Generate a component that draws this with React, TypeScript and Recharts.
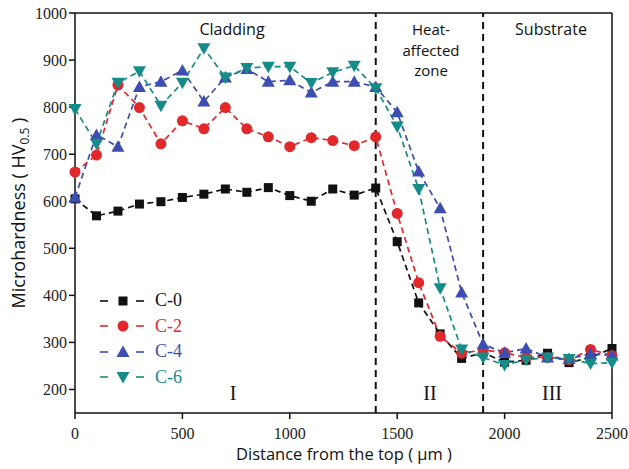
import { LineChart, Line, XAxis, YAxis, ReferenceLine } from "recharts";

// Distance from the top (µm)
const distance = [0, 100, 200, 300, 400, 500, 600, 700, 800, 900, 1000, 1100, 1200, 1300, 1400, 1500, 1600, 1700, 1800, 1900, 2000, 2100, 2200, 2300, 2400, 2500];

// Microhardness readings (HV0.5) for each sample
const c0 = [605, 569, 579, 594, 599, 608, 615, 626, 619, 629, 612, 600, 626, 613, 628, 514, 384, 318, 266, 278, 258, 262, 277, 257, 268, 287];
const c2 = [662, 698, 847, 799, 722, 771, 754, 799, 754, 737, 716, 735, 729, 718, 737, 574, 427, 313, 277, 284, 278, 268, 268, 263, 285, 272];
const c4 = [608, 741, 716, 843, 854, 878, 812, 863, 881, 854, 857, 831, 854, 854, 843, 789, 663, 585, 406, 296, 278, 287, 268, 265, 276, 272];
const c6 = [796, 722, 852, 876, 803, 852, 925, 863, 883, 886, 886, 851, 874, 888, 840, 759, 626, 415, 285, 268, 252, 263, 268, 265, 255, 257];

const xTicks = [0, 500, 1000, 1500, 2000, 2500];
const yTicks = [200, 300, 400, 500, 600, 700, 800, 900, 1000];
const zoneBounds = [1400, 1900];

const data = distance.map((x, i) => ({ x, c0: c0[i], c2: c2[i], c4: c4[i], c6: c6[i] }));

type Shape = "square" | "circle" | "up" | "down";

const series: { key: string; name: string; color: string; shape: Shape }[] = [
  { key: "c0", name: "C-0", color: "#111111", shape: "square" },
  { key: "c2", name: "C-2", color: "#E3282C", shape: "circle" },
  { key: "c4", name: "C-4", color: "#3D4DB2", shape: "up" },
  { key: "c6", name: "C-6", color: "#168C88", shape: "down" },
];

function marker(shape: Shape, color: string, cx: number, cy: number, key?: any) {
  if (shape === "square") return <rect key={key} x={cx - 4.5} y={cy - 4.5} width={9} height={9} fill={color} />;
  if (shape === "circle") return <circle key={key} cx={cx} cy={cy} r={5.5} fill={color} />;
  if (shape === "up")
    return <polygon key={key} points={`${cx},${cy - 6.5} ${cx - 6.5},${cy + 5} ${cx + 6.5},${cy + 5}`} fill={color} />;
  return <polygon key={key} points={`${cx},${cy + 6.5} ${cx - 6.5},${cy - 5} ${cx + 6.5},${cy - 5}`} fill={color} />;
}

const serif = "'Liberation Serif', 'DejaVu Serif', serif";
const sans = "'Open Sans', 'Noto Sans', sans-serif";

export default function App() {
  const label = (text: string, left: number, top: number, size: number, family: string) => (
    <div
      style={{ position: "absolute", left, top, transform: "translateX(-50%)", fontSize: size, fontFamily: family, color: "#111", whiteSpace: "nowrap", lineHeight: 1 }}
    >
      {text}
    </div>
  );

  return (
    <div style={{ position: "absolute", left: 0, top: 0, width: 629, height: 469, background: "#fff" }}>
      <LineChart width={629} height={469} data={data} margin={{ top: 13, right: 17, bottom: 0, left: 0 }}>
        <XAxis
          dataKey="x"
          type="number"
          domain={[0, 2500]}
          ticks={xTicks}
          tickSize={6}
          tickMargin={9}
          height={56}
          stroke="#111"
          strokeWidth={1.5}
          tick={{ fill: "#222", fontSize: 16, fontFamily: serif }}
        />
        <YAxis
          type="number"
          domain={[150, 1000]}
          ticks={yTicks}
          tickSize={6}
          width={75}
          stroke="#111"
          strokeWidth={1.5}
          tick={{ fill: "#222", fontSize: 16, fontFamily: serif }}
        />
        <ReferenceLine y={1000} stroke="#111" strokeWidth={1.5} />
        <ReferenceLine x={2500} stroke="#111" strokeWidth={1.5} />
        {zoneBounds.map((b) => (
          <ReferenceLine key={b} x={b} stroke="#111" strokeWidth={2} strokeDasharray="7 5" />
        ))}
        {series.map((s) => (
          <Line
            key={s.key}
            dataKey={s.key}
            name={s.name}
            type="linear"
            stroke={s.color}
            strokeWidth={1.7}
            strokeDasharray="6 4"
            isAnimationActive={false}
            dot={(p: any) => marker(s.shape, s.color, p.cx, p.cy, `${s.key}-${p.index}`)}
          />
        ))}
      </LineChart>

      {label("Cladding", 232, 21, 16, sans)}
      <div
        style={{ position: "absolute", left: 431, top: 19, transform: "translateX(-50%)", fontSize: 15, fontFamily: sans, color: "#111", lineHeight: "20.5px", textAlign: "center" }}
      >
        Heat-
        <br />
        affected
        <br />
        zone
      </div>
      {label("Substrate", 551, 21, 16, sans)}
      {label("I", 233, 383, 20, serif)}
      {label("II", 430, 383, 20, serif)}
      {label("III", 552, 383, 20, serif)}
      {label("Distance from the top ( μm )", 344, 446, 16.5, sans)}

      <div
        style={{ position: "absolute", left: 20, top: 213, transform: "translate(-50%, -50%) rotate(-90deg)", fontSize: 18, fontFamily: sans, color: "#111", whiteSpace: "nowrap", lineHeight: 1 }}
      >
        Microhardness ( HV<sub style={{ fontSize: 12 }}>0.5</sub> )
      </div>

      <div style={{ position: "absolute", left: 98, top: 288 }}>
        {series.map((s) => (
          <div key={s.key} style={{ display: "flex", alignItems: "center", height: 25.5 }}>
            <svg width={50} height={20}>
              <line x1={2} y1={10} x2={10} y2={10} stroke={s.color} strokeWidth={1.6} />
              {marker(s.shape, s.color, 25, 10)}
              <line x1={38} y1={10} x2={46} y2={10} stroke={s.color} strokeWidth={1.6} />
            </svg>
            <span style={{ marginLeft: 7, fontFamily: serif, fontSize: 18, color: s.color }}>{s.name}</span>
          </div>
        ))}
      </div>
    </div>
  );
}
